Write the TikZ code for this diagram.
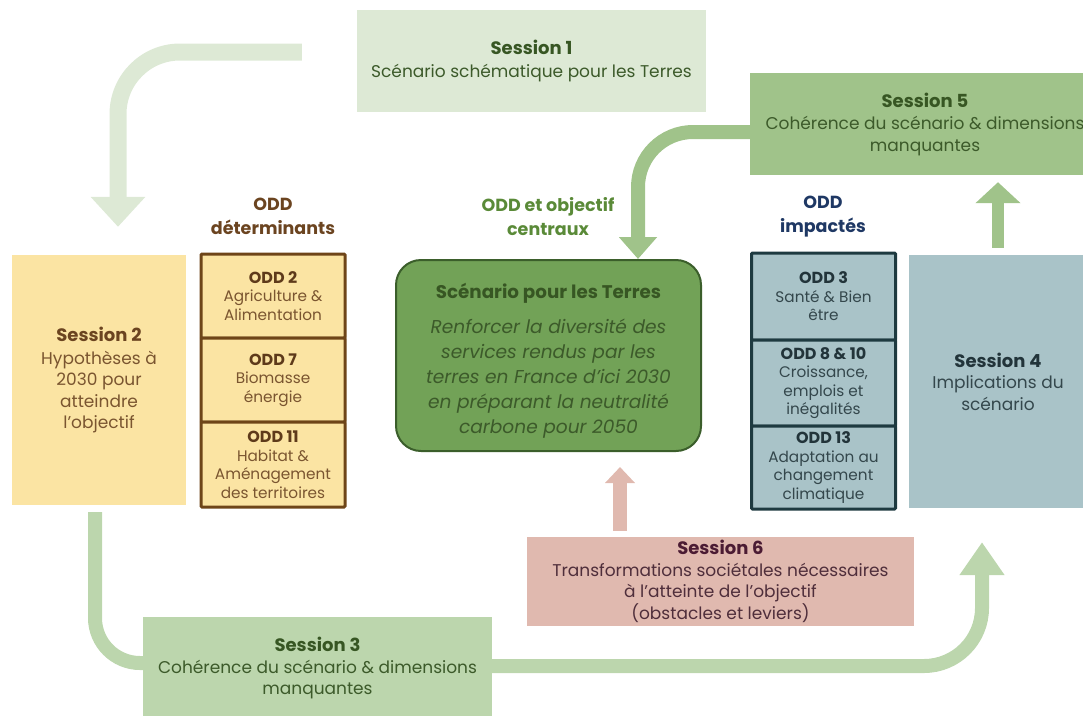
\documentclass[tikz,border=0pt]{standalone}
\usepackage{fontspec}
\setmainfont{Poppins}
\usetikzlibrary{arrows.meta}

\definecolor{sonefill}{HTML}{DDE9D5}
\definecolor{sfivefill}{HTML}{A0C38A}
\definecolor{sthreefill}{HTML}{BCD6AD}
\definecolor{greentitle}{HTML}{375623}
\definecolor{greenbody}{HTML}{3C5A2A}
\definecolor{centrefill}{HTML}{72A257}
\definecolor{centreline}{HTML}{3B5E2B}
\definecolor{centrehead}{HTML}{5A8A38}
\definecolor{yellowfill}{HTML}{FBE4A3}
\definecolor{detline}{HTML}{6E4518}
\definecolor{dethead}{HTML}{6B4420}
\definecolor{dettitle}{HTML}{5E3A1A}
\definecolor{detbody}{HTML}{7A5530}
\definecolor{bluefill}{HTML}{A9C3C8}
\definecolor{impline}{HTML}{1E3A40}
\definecolor{imphead}{HTML}{1F3864}
\definecolor{imptitle}{HTML}{22343A}
\definecolor{impbody}{HTML}{34474C}
\definecolor{pinkfill}{HTML}{E0B9AF}
\definecolor{pinktitle}{HTML}{4B1B33}
\definecolor{pinkbody}{HTML}{4F2E3B}

\def\sesstitle#1#2{{\bfseries\color{#1}\fontsize{18}{21.5}\selectfont #2}}
\def\oddtitle#1#2{{\bfseries\color{#1}\fontsize{16}{18.5}\selectfont #2}}

\tikzset{
  session/.style={inner sep=0pt, align=center, font=\fontsize{17}{21.5}\selectfont},
  header/.style={align=center, font=\bfseries\fontsize{17.5}{24}\selectfont},
  detcell/.style={draw=detline, line width=3pt, fill=yellowfill, minimum width=144pt,
    inner sep=0pt, align=center, text=detbody, rounded corners=1pt,
    font=\fontsize{15.3}{18.5}\selectfont},
  impcell/.style={detcell, draw=impline, fill=bluefill, text=impbody},
  flow/.style={line width=#1, line cap=butt}
}

\begin{document}
\begin{tikzpicture}[x=1pt, y=-1pt]
	%%%%% FRAME %%%%%
	\useasboundingbox (0,0) rectangle (1083,715);
	\clip (0,0) rectangle (1083,715);
	
	%%%%% SESSIONS %%%%%
	\node[session, fill=sonefill, minimum width=349pt, minimum height=102pt, text=greenbody] (s1) at (531.5,61)
		{\sesstitle{greentitle}{Session 1}\\[1pt]Scénario schématique pour les Terres};
	\node[session, fill=yellowfill, minimum width=174pt, minimum height=250pt, text=detbody] (s2) at (99,380)
		{\sesstitle{dethead}{Session 2}\\[1pt]Hypothèses à\\2030 pour\\atteindre\\l’objectif};
	\node[session, fill=sthreefill, minimum width=349pt, minimum height=102pt, text=greenbody] (s3) at (317.5,668)
		{\sesstitle{greentitle}{Session 3}\\Cohérence du scénario \& dimensions\\manquantes};
	\node[session, fill=bluefill, minimum width=178pt, minimum height=253pt, text=impbody] (s4) at (998,381.5)
		{\sesstitle{imptitle}{Session 4}\\Implications du\\scénario};
	\node[session, fill=sfivefill, minimum width=350pt, minimum height=102pt, text=greenbody] (s5) at (925,124)
		{\sesstitle{greentitle}{Session 5}\\[1pt]Cohérence du scénario \& dimensions\\manquantes};
	\node[session, fill=pinkfill, minimum width=387pt, minimum height=89pt, text=pinkbody] (s6) at (720.5,581.5)
		{\sesstitle{pinktitle}{Session 6}\\Transformations sociétales nécessaires\\à l’atteinte de l’objectif\\(obstacles et leviers)};
	
	%%%%% HEADERS %%%%%
	\node[header, text=dethead] (dethd) at (273,216) {ODD\\déterminants};
	\node[header, text=centrehead] (centrehd) at (548,217) {ODD et objectif\\centraux};
	\node[header, text=imphead] (imphd) at (823,217) {ODD\\impactés};
	
	%%%%% CENTRE %%%%%
	\node[draw=centreline, line width=2pt, fill=centrefill, rounded corners=25pt, minimum width=305pt,
		minimum height=191pt] (centre) at (548.5,355.5) {};
	\node[inner sep=0pt, align=center, text=greenbody, font=\itshape\fontsize{18.6}{25}\selectfont]
		(centretxt) at ([yshift=-5pt]centre.center)
		{{\upshape\bfseries\color{greentitle}\fontsize{18.3}{25}\selectfont Scénario pour les Terres}\\[10pt]
		 Renforcer la diversité des\\services rendus par les\\terres en France d’ici 2030\\en préparant la neutralité\\carbone pour 2050};
	
	%%%%% ODD DETERMINANTS %%%%%
	\node[detcell, minimum height=84pt] (odd2) at (273,296) {\oddtitle{dettitle}{ODD 2}\\Agriculture \&\\Alimentation};
	\node[detcell, minimum height=84pt] (odd7) at (273,380) {\oddtitle{dettitle}{ODD 7}\\Biomasse\\énergie};
	\node[detcell, minimum height=85pt] (odd11) at (273,464.5) {\oddtitle{dettitle}{ODD 11}\\Habitat \&\\Aménagement\\des territoires};
	
	%%%%% ODD IMPACTES %%%%%
	\node[impcell, minimum height=87pt] (odd3) at (823.5,296.5) {\oddtitle{imptitle}{ODD 3}\\Santé \& Bien\\être};
	\node[impcell, minimum height=86pt] (odd8) at (823.5,383) {\oddtitle{imptitle}{ODD 8 \& 10}\\Croissance,\\emplois et\\inégalités};
	\node[impcell, minimum height=83pt] (odd13) at (823.5,467.5) {\oddtitle{imptitle}{ODD 13}\\Adaptation au\\changement\\climatique};
	
	%%%%% ARROWS %%%%%
	\draw[flow=17pt, sonefill, rounded corners=62pt, -{Triangle[length=30pt,width=53pt]}]
		([xshift=-55pt,yshift=9pt]s1.west) -| ([xshift=19pt,yshift=28pt]s2.north);
	\draw[flow=14pt, sfivefill, rounded corners=55pt, -{Triangle[length=22pt,width=37pt]}]
		([yshift=-8pt]s5.west) -| ([xshift=89.5pt]centre.north);
	\draw[flow=12pt, sfivefill, shorten <=7pt, shorten >=7pt, -{Triangle[length=21pt,width=44pt]}]
		(s4.north) -- (s4.north |- s5.south);
	\draw[flow=14pt, pinkfill, shorten <=6pt, shorten >=15pt, -{Triangle[length=16pt,width=29pt]}]
		([xshift=-100.5pt]s6.north) -- ([xshift=-100.5pt]s6.north |- centre.south);
	\draw[flow=14pt, sthreefill, rounded corners=45pt, shorten <=7pt]
		([xshift=-4pt]s2.south) |- ([yshift=5pt]s3.west);
	\draw[flow=14pt, sthreefill, rounded corners=58pt, shorten >=34pt, -{Triangle[length=33pt,width=43pt]}]
		([yshift=2pt]s3.east) -| ([xshift=-16pt]s4.south);
\end{tikzpicture}
\end{document}
